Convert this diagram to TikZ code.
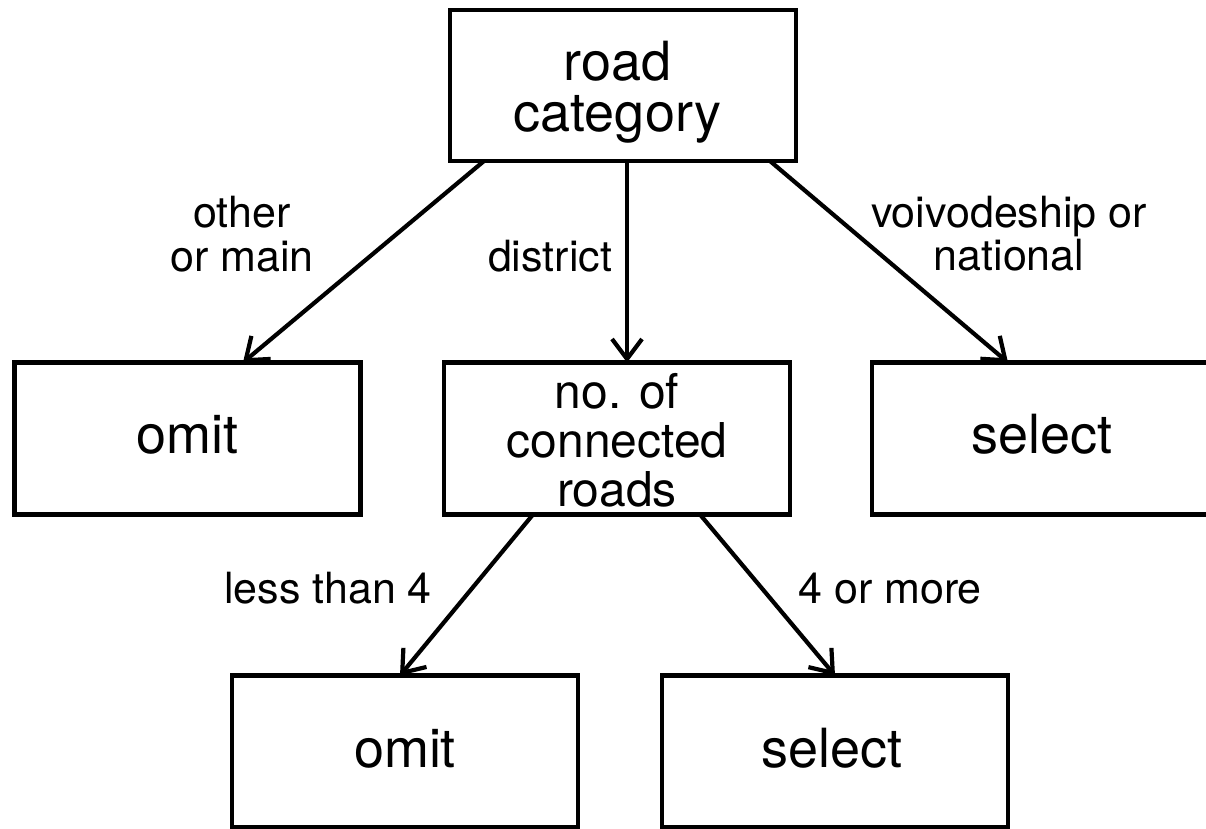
\documentclass[tikz,border=0pt]{standalone}
\usepackage{fontspec}
\setmainfont{TeX Gyre Heros}
\usetikzlibrary{arrows.meta}
\newcommand\mlines[2]{\vtop{\baselineskip=#1\lineskiplimit=-\maxdimen\lineskip=0pt\let\\\cr\halign{\hfil##\hfil\cr#2\crcr}}}
\newcommand\boxtext[3]{\raisebox{#2}[0pt][0pt]{\makebox[0pt]{\hspace*{#1}#3}}}
\tikzset{
  box/.style={draw, line width=4.6pt, minimum width=346pt, minimum height=152pt,
    inner sep=0pt, outer sep=0pt, font=\fontsize{54}{50}\selectfont},
  lbl/.style={anchor=base, inner sep=0pt, font=\fontsize{43}{44}\selectfont},
  arr/.style={line width=4.2pt, -{Straight Barb[length=20pt,width=30pt]}}
}
\begin{document}
\begin{tikzpicture}[x=1pt,y=-1pt]
\useasboundingbox (0,0) rectangle (1206,828);
\fill[white] (0,0) rectangle (1206,828);
\clip (0,0) rectangle (1206,828);
% boxes
\node[box, minimum height=151pt] (rc) at (623,85.5) {\boxtext{-11pt}{5.5pt}{\mlines{51pt}{road\\category}}};
\node[box] (omitL) at (187.5,438.5) {\boxtext{0pt}{-14.5pt}{omit}};
\node[box, font=\fontsize{48}{49}\selectfont] (mid) at (617,438.5) {\boxtext{0pt}{30.5pt}{\mlines{49pt}{no. of\\connected\\roads}}};
\node[box] (selR) at (1045,438.5) {\boxtext{-6pt}{-14.5pt}{select}};
\node[box] (omitB) at (405,751.5) {\boxtext{0pt}{-15.5pt}{omit}};
\node[box] (selB) at (835,751.5) {\boxtext{-6pt}{-15.5pt}{select}};
% labels
\node[lbl] (l1) at (242,227) {\mlines{44pt}{other\\or main}};
\node[lbl] (l2) at (550,271) {district};
\node[lbl] (l3) at (1009,227) {\mlines{43pt}{voivodeship or\\national}};
\node[lbl] (l4) at (328,603) {less than 4};
\node[lbl] (l5) at (890,603) {4 or more};
% connectors
\draw[arr] ([xshift=-139pt]rc.south) -- ([xshift=55.5pt]omitL.north);
\draw[arr] ([xshift=4pt]rc.south) -- ([xshift=10pt]mid.north);
\draw[arr] ([xshift=147pt]rc.south) -- ([xshift=-37pt]selR.north);
\draw[arr] ([xshift=-84pt]mid.south) -- ([xshift=-5pt]omitB.north);
\draw[arr] ([xshift=83pt]mid.south) -- (selB.north);
\end{tikzpicture}
\end{document}
